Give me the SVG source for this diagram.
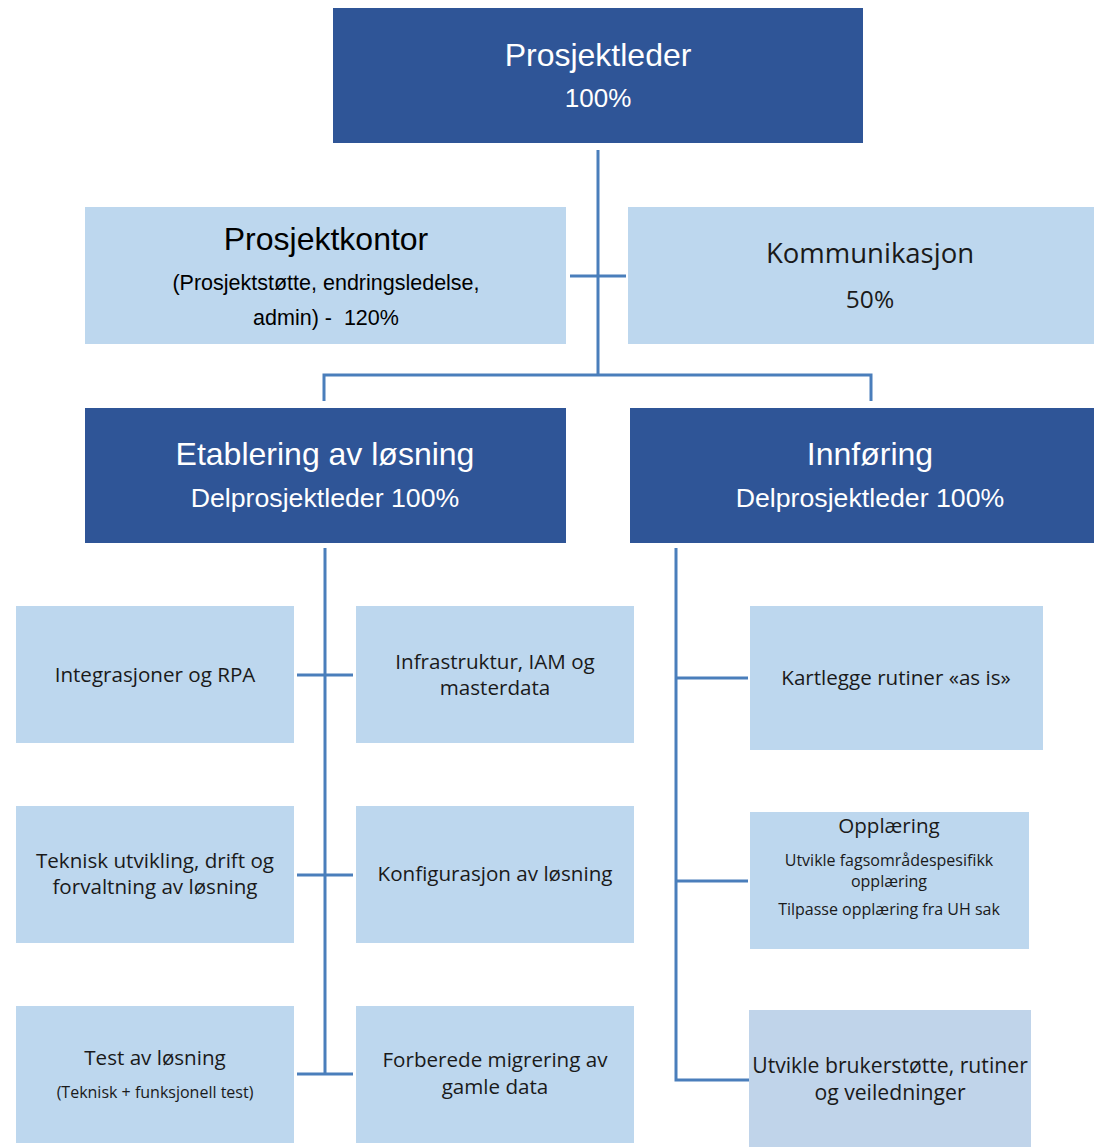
<svg xmlns="http://www.w3.org/2000/svg" width="1094" height="1147" viewBox="0 0 1094 1147">
<style>
.dark{fill:#2F5597}
.light{fill:#BDD7EE}
.light2{fill:#C0D4EA}
.conn{stroke:#4A7EBB;stroke-width:3;fill:none}
.a{font-family:"Liberation Sans",Arial,sans-serif;text-anchor:middle}
.c{font-family:"Open Sans","Noto Sans",sans-serif;text-anchor:middle;fill:#1a1a1a}
.w{fill:#ffffff}
.k{fill:#000000}
.m{font-size:20.6px}
.s{font-size:16px}
</style>
<rect width="1094" height="1147" fill="#ffffff"/>
<g id="connectors">
<path class="conn" d="M598 150V375M570 276H626M324 401V375H871V401"/>
<path class="conn" d="M325 548V1074M297 675H353M297 875H353M297 1074H353"/>
<path class="conn" d="M676 548V1080H749M676 678H748M676 881H748"/>
</g>
<g id="prosjektleder">
<rect class="dark" x="333" y="8" width="530" height="135"/>
<text class="a w" x="598" y="66" font-size="32">Prosjektleder</text>
<text class="a w" x="598" y="107" font-size="26">100%</text>
</g>
<g id="prosjektkontor">
<rect class="light" x="85" y="207" width="481" height="137"/>
<text class="a k" x="326" y="250" font-size="32">Prosjektkontor</text>
<text class="a k" x="326" y="290" font-size="21.5">(Prosjektstøtte, endringsledelse,</text>
<text class="a k" x="326" y="325" font-size="21.5" xml:space="preserve">admin) -  120%</text>
</g>
<g id="kommunikasjon">
<rect class="light" x="628" y="207" width="466" height="137"/>
<text class="c" x="870" y="263" font-size="27.5">Kommunikasjon</text>
<text class="c" x="870" y="308" font-size="24.5">50%</text>
</g>
<g id="etablering">
<rect class="dark" x="85" y="408" width="481" height="135"/>
<text class="a w" x="325" y="465" font-size="32">Etablering av løsning</text>
<text class="a w" x="325" y="507" font-size="26.7">Delprosjektleder 100%</text>
</g>
<g id="innforing">
<rect class="dark" x="630" y="408" width="464" height="135"/>
<text class="a w" x="870" y="465" font-size="32">Innføring</text>
<text class="a w" x="870" y="507" font-size="26.7">Delprosjektleder 100%</text>
</g>
<g id="integrasjoner">
<rect class="light" x="16" y="606" width="278" height="137"/>
<text class="c m" x="155" y="682">Integrasjoner og RPA</text>
</g>
<g id="infrastruktur">
<rect class="light" x="356" y="606" width="278" height="137"/>
<text class="c m" x="495" y="669">Infrastruktur, IAM og</text>
<text class="c m" x="495" y="695">masterdata</text>
</g>
<g id="teknisk">
<rect class="light" x="16" y="806" width="278" height="137"/>
<text class="c m" x="155" y="868">Teknisk utvikling, drift og</text>
<text class="c m" x="155" y="894">forvaltning av løsning</text>
</g>
<g id="konfigurasjon">
<rect class="light" x="356" y="806" width="278" height="137"/>
<text class="c m" x="495" y="881">Konfigurasjon av løsning</text>
</g>
<g id="test">
<rect class="light" x="16" y="1006" width="278" height="137"/>
<text class="c m" x="155" y="1065">Test av løsning</text>
<text class="c s" x="155" y="1098">(Teknisk + funksjonell test)</text>
</g>
<g id="forberede">
<rect class="light" x="356" y="1006" width="278" height="137"/>
<text class="c m" x="495" y="1067">Forberede migrering av</text>
<text class="c m" x="495" y="1094">gamle data</text>
</g>
<g id="kartlegge">
<rect class="light" x="750" y="606" width="293" height="144"/>
<text class="c m" x="896" y="685">Kartlegge rutiner «as is»</text>
</g>
<g id="opplaering">
<rect class="light" x="750" y="812" width="279" height="137"/>
<text class="c m" x="889" y="833">Opplæring</text>
<text class="c s" x="889" y="866">Utvikle fagsområdespesifikk</text>
<text class="c s" x="889" y="887">opplæring</text>
<text class="c s" x="889" y="915">Tilpasse opplæring fra UH sak</text>
</g>
<g id="brukerstotte">
<rect class="light2" x="749" y="1010" width="282" height="137"/>
<text class="c" x="890" y="1073" font-size="21.2">Utvikle brukerstøtte, rutiner</text>
<text class="c" x="890" y="1100" font-size="21.2">og veiledninger</text>
</g>
</svg>
